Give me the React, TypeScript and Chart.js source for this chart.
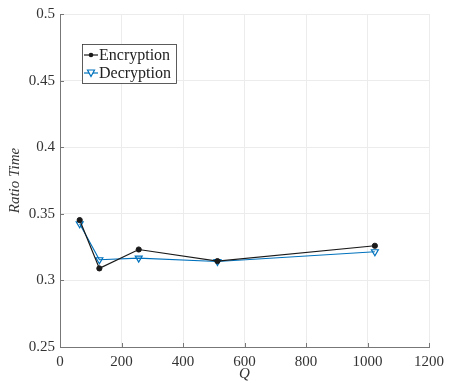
import React, { useEffect, useRef } from "react";
import { Chart, registerables } from "chart.js";

Chart.register(...registerables);

const qValues = [64, 128, 256, 512, 1024];
const encryptionRatio = [0.3453, 0.309, 0.3232, 0.3145, 0.326];
const decryptionRatio = [0.3425, 0.3155, 0.3167, 0.3142, 0.3215];
const xTicks = [0, 200, 400, 600, 800, 1000, 1200];
const yTicks = [0.25, 0.3, 0.35, 0.4, 0.45, 0.5];

const SERIF = "Liberation Serif";
const BLUE = "#0072BD";
const BLACK = "#1a1a1a";
const AXIS = "#777777";

// Short tick marks pointing into the plot along the left and bottom axes.
const innerTicks = {
  id: "innerTicks",
  afterDraw(chart: any) {
    const { ctx, chartArea, scales } = chart;
    ctx.save();
    ctx.strokeStyle = AXIS;
    ctx.lineWidth = 1;
    ctx.beginPath();
    xTicks.forEach((v) => {
      const px = Math.round(scales.x.getPixelForValue(v)) + 0.5;
      ctx.moveTo(px, chartArea.bottom);
      ctx.lineTo(px, chartArea.bottom - 4);
    });
    yTicks.forEach((v) => {
      const py = Math.round(scales.y.getPixelForValue(v)) + 0.5;
      ctx.moveTo(chartArea.left, py);
      ctx.lineTo(chartArea.left + 4, py);
    });
    ctx.stroke();
    ctx.restore();
  },
};

// Boxed legend drawn inside the plot area, near its upper-left corner.
const insideLegend = {
  id: "insideLegend",
  afterDraw(chart: any) {
    const { ctx, chartArea } = chart;
    const x0 = chartArea.left + 22;
    const y0 = chartArea.top + 30;
    const w = 94;
    const h = 39;
    ctx.save();
    ctx.fillStyle = "#ffffff";
    ctx.fillRect(x0, y0, w, h);
    ctx.strokeStyle = "#333333";
    ctx.lineWidth = 0.8;
    ctx.strokeRect(x0 + 0.5, y0 + 0.5, w, h);
    ctx.font = `16px ${SERIF}`;
    ctx.textBaseline = "middle";
    const rows = [
      { label: "Encryption", color: BLACK, tri: false },
      { label: "Decryption", color: BLUE, tri: true },
    ];
    rows.forEach((r, i) => {
      const cy = y0 + 11 + i * 18;
      ctx.strokeStyle = r.color;
      ctx.lineWidth = 1.2;
      ctx.beginPath();
      ctx.moveTo(x0 + 2, cy);
      ctx.lineTo(x0 + 16, cy);
      ctx.stroke();
      if (r.tri) {
        ctx.beginPath();
        ctx.moveTo(x0 + 5.5, cy - 3);
        ctx.lineTo(x0 + 12.5, cy - 3);
        ctx.lineTo(x0 + 9, cy + 3.5);
        ctx.closePath();
        ctx.fillStyle = "#ffffff";
        ctx.fill();
        ctx.stroke();
      } else {
        ctx.beginPath();
        ctx.arc(x0 + 9, cy, 2.3, 0, Math.PI * 2);
        ctx.fillStyle = r.color;
        ctx.fill();
      }
      ctx.fillStyle = "#222222";
      ctx.textAlign = "left";
      ctx.fillText(r.label, x0 + 17, cy + 1);
    });
    ctx.restore();
  },
};

export default function App() {
  const ref = useRef<HTMLCanvasElement>(null);

  useEffect(() => {
    document.body.style.margin = "0";
    const canvas = ref.current!;
    const chart = new Chart(canvas, {
      type: "line",
      data: {
        datasets: [
          {
            label: "Encryption",
            data: qValues.map((q, i) => ({ x: q, y: encryptionRatio[i] })),
            borderColor: BLACK,
            backgroundColor: BLACK,
            borderWidth: 1.2,
            pointStyle: "circle",
            pointRadius: 2.6,
            pointBorderWidth: 1,
          },
          {
            label: "Decryption",
            data: qValues.map((q, i) => ({ x: q, y: decryptionRatio[i] })),
            borderColor: BLUE,
            backgroundColor: "rgba(255,255,255,0)",
            borderWidth: 1.2,
            pointStyle: "triangle",
            rotation: 180,
            pointRadius: 4,
            pointBorderWidth: 1.2,
          },
        ],
      },
      options: {
        animation: false,
        responsive: false,
        layout: { padding: { top: 13, right: 19, left: 0, bottom: 0 } },
        plugins: {
          legend: { display: false },
          tooltip: { enabled: false },
        },
        scales: {
          x: {
            type: "linear",
            min: 0,
            max: 1200,
            afterBuildTicks: (s: any) => {
              s.ticks = xTicks.map((v) => ({ value: v }));
            },
            afterFit: (s: any) => {
              s.height = 36;
            },
            grid: { color: "#ececec", lineWidth: 1, drawTicks: false },
            border: { color: AXIS, width: 1 },
            ticks: {
              color: "#333333",
              font: { family: SERIF, size: 15 },
              padding: 6,
              maxRotation: 0,
              callback: (v: any) => String(Number(v)),
            },
            title: {
              display: true,
              text: "Q",
              color: "#333333",
              font: { family: SERIF, size: 15, style: "italic" },
              padding: { top: -4, bottom: 0 },
            },
          },
          y: {
            type: "linear",
            min: 0.25,
            max: 0.5,
            afterBuildTicks: (s: any) => {
              s.ticks = yTicks.map((v) => ({ value: v }));
            },
            afterFit: (s: any) => {
              s.width = 60;
            },
            grid: { color: "#ececec", lineWidth: 1, drawTicks: false },
            border: { color: AXIS, width: 1 },
            ticks: {
              color: "#333333",
              font: { family: SERIF, size: 15 },
              padding: 5,
              callback: (v: any) => String(Number(v)),
            },
            title: {
              display: true,
              text: "Ratio Time",
              color: "#333333",
              font: { family: SERIF, size: 15, style: "italic" },
              padding: { top: 6, bottom: 0 },
            },
          },
        },
      },
      plugins: [insideLegend, innerTicks],
    } as any);
    // Redraw once the system fonts are ready so text uses the serif face.
    const redraw = () => chart.update("none");
    const t1 = setTimeout(redraw, 150);
    const t2 = setTimeout(redraw, 500);
    document.fonts.ready.then(redraw);
    return () => {
      clearTimeout(t1);
      clearTimeout(t2);
      chart.destroy();
    };
  }, []);

  return (
    <div style={{ position: "fixed", left: 0, top: 0, width: 450, height: 383, background: "#fff" }}>
      <canvas ref={ref} width={450} height={383} style={{ width: 450, height: 383 }} />
    </div>
  );
}
